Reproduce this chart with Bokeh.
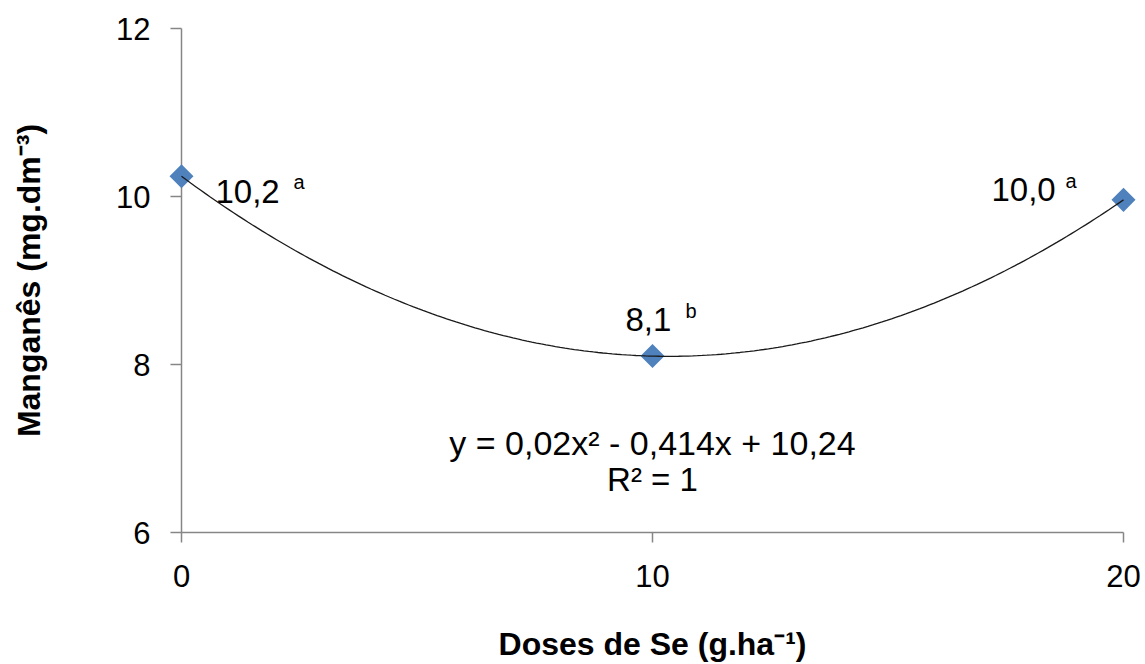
import numpy as np
from bokeh.plotting import figure
from bokeh.models import Range1d, FixedTicker, Label, ColumnDataSource
from bokeh.core.properties import value
from bokeh.embed import file_html
from bokeh.resources import INLINE

# Selenium doses (g/ha) and soil manganese (mg/dm3)
doses = [0, 10, 20]
manganese = [10.24, 8.1, 9.96]
letters = ["a", "b", "a"]

# Quadratic fit y = c2*x^2 + c1*x + c0
fit_coefs = [0.02, -0.414, 10.24]
r_squared = 1

x_ticks = [0, 10, 20]
y_ticks = [6, 8, 10, 12]

FONT = "Liberation Sans"

p = figure(width=1145, height=664, output_backend="svg", toolbar_location=None,
           x_range=Range1d(0, 20), y_range=Range1d(6, 12),
           min_border_left=181, min_border_right=22,
           min_border_top=28, min_border_bottom=131)
p.outline_line_color = None
p.background_fill_color = "white"
p.border_fill_color = "white"
p.xgrid.visible = False
p.ygrid.visible = False

for ax in (p.xaxis[0], p.yaxis[0]):
    ax.axis_line_color = "#868686"
    ax.axis_line_width = 1.5
    ax.major_tick_line_color = "#868686"
    ax.major_tick_line_width = 1.5
    ax.major_tick_in = 0
    ax.minor_tick_line_color = None
    ax.major_label_text_font = FONT
    ax.major_label_text_font_size = "31px"
    ax.major_label_text_color = "black"
    ax.axis_label_text_font = FONT
    ax.axis_label_text_font_size = "32px"
    ax.axis_label_text_font_style = "bold"
    ax.axis_label_text_color = "black"

p.xaxis.ticker = FixedTicker(ticks=x_ticks)
p.yaxis.ticker = FixedTicker(ticks=y_ticks)
p.xaxis.major_tick_out = 10
p.yaxis.major_tick_out = 11
p.xaxis.major_label_standoff = 22
p.yaxis.major_label_standoff = 20
p.xaxis.axis_label = "Doses de Se (g.ha\u207b\u00b9)"
p.yaxis.axis_label = "Manganês (mg.dm\u207b\u00b3)"
p.xaxis.axis_label_standoff = 36
p.yaxis.axis_label_standoff = 66

# observed means (drawn above the frame clip so edge points stay whole)
src = ColumnDataSource(dict(x=doses, y=manganese,
                            txt=[f"{v:.1f}".replace(".", ",") for v in manganese],
                            sup=letters))
p.scatter("x", "y", source=src, marker="square", angle=np.pi / 4, size=17,
          fill_color="#4F81BD", line_color=None, level="overlay")

# fitted curve
xs = np.linspace(doses[0], doses[-1], 200)
ys = fit_coefs[0] * xs ** 2 + fit_coefs[1] * xs + fit_coefs[2]
p.line(xs, ys, line_color="#1a1a1a", line_width=1.3, level="overlay")

# value labels with significance letters
val_dx = [34, -27, -132]
val_dy = [15, -37, -10]
sup_dx = [112, 33, -58]
sup_dy = [6, -45, -19]
for i in range(len(doses)):
    p.text(x=[doses[i]], y=[manganese[i]], text=[src.data["txt"][i]],
           x_offset=val_dx[i], y_offset=val_dy[i],
           text_font=value(FONT), text_font_size="33px", text_color="black",
           text_align="left", text_baseline="alphabetic")
    p.text(x=[doses[i]], y=[manganese[i]], text=[letters[i]],
           x_offset=sup_dx[i], y_offset=sup_dy[i],
           text_font=value(FONT), text_font_size="20px", text_color="black",
           text_align="left", text_baseline="alphabetic")

eq = (f"y = {fit_coefs[0]:g}x\u00b2 - {abs(fit_coefs[1]):g}x + {fit_coefs[2]:g}").replace(".", ",")
p.add_layout(Label(x=10, y=7.07, text=eq, text_font=FONT, text_font_size="34px",
                   text_color="black", text_align="center", text_baseline="alphabetic"))
p.add_layout(Label(x=10, y=6.63, text=f"R\u00b2 = {r_squared}", text_font=FONT,
                   text_font_size="33px", text_color="black", text_align="center",
                   text_baseline="alphabetic"))

open("out.html", "w").write(file_html(p, INLINE))
